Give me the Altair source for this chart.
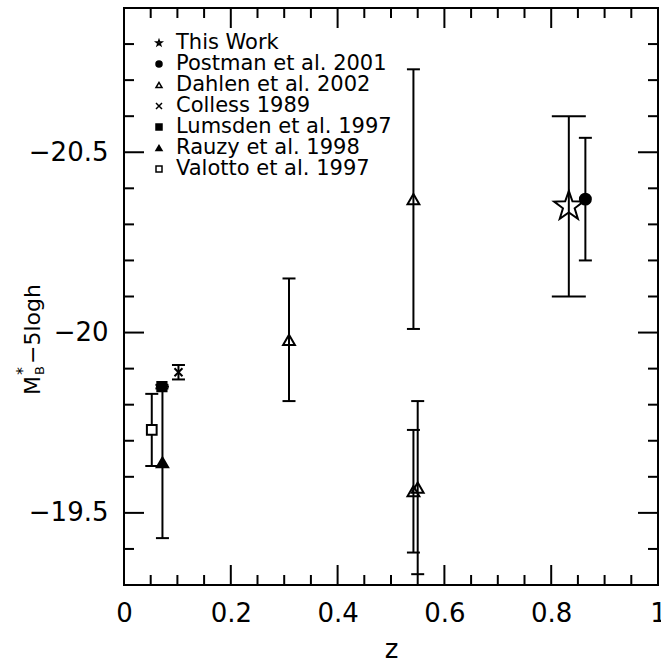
import altair as alt
import pandas as pd

# ---------------- data ----------------
series_names = ["This Work", "Postman et al. 2001", "Dahlen et al. 2002",
                "Colless 1989", "Lumsden et al. 1997", "Rauzy et al. 1998",
                "Valotto et al. 1997"]

point_series = ["This Work", "Postman et al. 2001", "Dahlen et al. 2002",
                "Dahlen et al. 2002", "Dahlen et al. 2002", "Dahlen et al. 2002",
                "Colless 1989", "Lumsden et al. 1997", "Rauzy et al. 1998",
                "Valotto et al. 1997"]
point_z = [0.833, 0.864, 0.309, 0.542, 0.542, 0.550, 0.102, 0.071, 0.072, 0.052]
point_M = [-20.35, -20.37, -19.98, -20.37, -19.56, -19.57, -19.89, -19.85, -19.64, -19.73]
point_err = [0.25, 0.17, 0.17, 0.36, 0.17, 0.24, 0.02, 0.005, 0.21, 0.10]

x_major = [0, 0.2, 0.4, 0.6, 0.8, 1.0]
x_minor = [0.05, 0.1, 0.15, 0.25, 0.3, 0.35, 0.45, 0.5, 0.55, 0.65, 0.7, 0.75,
           0.85, 0.9, 0.95]
y_major = [-20.5, -20.0, -19.5]
y_minor = [-20.8, -20.7, -20.6, -20.4, -20.3, -20.2, -20.1, -19.9, -19.8, -19.7,
           -19.6, -19.4]

# ---------------- style ----------------
W, H = 534, 577
FONT = "DejaVu Sans"
STAR = ("M0,-1L0.235,-0.324L0.951,-0.309L0.380,0.124L0.588,0.809L0,0.4"
        "L-0.588,0.809L-0.380,0.124L-0.951,-0.309L-0.235,-0.324Z")
XPATH = "M-1,-1L1,1M1,-1L-1,1"
shape_range = [STAR, "circle", "triangle-up", XPATH, "square", "triangle-up", "square"]
fill_range = ["transparent", "black", "transparent", "transparent", "black", "black", "white"]
marker_size = {"This Work": 950, "Postman et al. 2001": 120, "Dahlen et al. 2002": 140,
               "Colless 1989": 64, "Lumsden et al. 1997": 85, "Rauzy et al. 1998": 130,
               "Valotto et al. 1997": 95}
cap_width = {"This Work": 34}


def dict_expr(d, default):
    expr = str(default)
    for k, v in d.items():
        expr = f"datum.series == '{k}' ? {v} : ({expr})"
    return expr


xscale = alt.Scale(domain=[0, 1], nice=False, zero=False)
yscale = alt.Scale(domain=[-20.9, -19.3], reverse=True, nice=False, zero=False)
xaxis = alt.Axis(values=x_major, format="~g", ticks=False, domain=False, grid=False,
                 labelFont=FONT, labelFontSize=26, labelPadding=15, labelColor="black",
                 labelFlush=False, labelOverlap=False, labelBound=False,
                 title="z", titleFont=FONT, titleFontSize=26, titleFontWeight="normal",
                 titleColor="black", titlePadding=10)
yaxis = alt.Axis(values=y_major, format="~g", ticks=False, domain=False, grid=False,
                 labelFont=FONT, labelFontSize=26, labelPadding=16, labelColor="black",
                 labelFlush=False, labelOverlap=False, labelBound=False, title=None)

shape_scale = alt.Scale(domain=series_names, range=shape_range)
fill_scale = alt.Scale(domain=series_names, range=fill_range)

pts = pd.DataFrame({"series": point_series, "z": point_z, "M": point_M, "err": point_err})

base = alt.Chart(pts).transform_calculate(
    lo="datum.M - datum.err", hi="datum.M + datum.err"
)

err_rule = base.mark_rule(color="black", strokeWidth=2).encode(
    x=alt.X("z:Q", scale=xscale, axis=xaxis),
    y=alt.Y("lo:Q", scale=yscale, axis=yaxis),
    y2="hi:Q",
)

caps = base.transform_fold(["lo", "hi"], as_=["end", "val"]).transform_calculate(
    capw=dict_expr(cap_width, 13)
).mark_tick(orient="horizontal", color="black", thickness=2, opacity=1).encode(
    x=alt.X("z:Q", scale=xscale, axis=xaxis),
    y=alt.Y("val:Q", scale=yscale, axis=yaxis),
    size=alt.Size("capw:Q", scale=None, legend=None),
)

markers = base.transform_calculate(
    msize=dict_expr(marker_size, 100)
).mark_point(filled=True, stroke="black", strokeWidth=2, opacity=1).encode(
    x=alt.X("z:Q", scale=xscale, axis=xaxis),
    y=alt.Y("M:Q", scale=yscale, axis=yaxis),
    shape=alt.Shape("series:N", scale=shape_scale, legend=None),
    fill=alt.Fill("series:N", scale=fill_scale, legend=None),
    size=alt.Size("msize:Q", scale=None, legend=None),
)

# ---------- inward ticks on all four sides ----------
def yticks(values, length):
    d = pd.DataFrame({"v": values})
    left = alt.Chart(d).mark_rule(color="black", strokeWidth=2).encode(
        y=alt.Y("v:Q", scale=yscale, axis=yaxis), x=alt.value(0), x2=alt.value(length))
    right = alt.Chart(d).mark_rule(color="black", strokeWidth=2).encode(
        y=alt.Y("v:Q", scale=yscale, axis=yaxis), x=alt.value(W), x2=alt.value(W - length))
    return [left, right]


def xticks(values, length):
    d = pd.DataFrame({"v": values})
    bottom = alt.Chart(d).mark_rule(color="black", strokeWidth=2).encode(
        x=alt.X("v:Q", scale=xscale, axis=xaxis), y=alt.value(H), y2=alt.value(H - length))
    top = alt.Chart(d).mark_rule(color="black", strokeWidth=2).encode(
        x=alt.X("v:Q", scale=xscale, axis=xaxis), y=alt.value(0), y2=alt.value(length))
    return [bottom, top]


tick_layers = yticks(y_major, 20) + yticks(y_minor, 10) + xticks(x_major, 20) + xticks(x_minor, 10)

# ---------- legend (inside plot, top-left) ----------
leg = pd.DataFrame({"series": series_names, "row": list(range(len(series_names)))})
leg_base = alt.Chart(leg).transform_calculate(ly="35 + 21 * datum.row")
leg_sym = leg_base.mark_point(filled=True, stroke="black", strokeWidth=1.5, opacity=1).encode(
    x=alt.value(35),
    y=alt.Y("ly:Q", scale=None),
    shape=alt.Shape("series:N", scale=shape_scale, legend=None),
    fill=alt.Fill("series:N", scale=fill_scale, legend=None),
    size=alt.value(36),
)
leg_txt = leg_base.mark_text(align="left", baseline="middle", font=FONT, fontSize=21,
                             color="black").encode(
    x=alt.value(52), y=alt.Y("ly:Q", scale=None), text="series:N")

# ---------- y-axis title  M*_B - 5logh ----------
def title_part(txt, x, y, size):
    return alt.Chart(pd.DataFrame({"t": [txt]})).mark_text(
        angle=270, align="left", baseline="alphabetic", font=FONT, fontSize=size,
        color="black").encode(x=alt.value(x), y=alt.value(y), text="t:N")


TX, TY = -84, 387
ytitle = [
    title_part("M", TX, TY, 22),
    title_part("*", TX - 12, TY - 20, 16),
    title_part("B", TX + 4, TY - 20, 13),
    title_part("\u22125logh", TX, TY - 31, 22),
]

chart = alt.layer(
    *tick_layers, err_rule, caps, markers, leg_sym, leg_txt, *ytitle
).properties(
    width=W, height=H,
    autosize=alt.AutoSizeParams(type="none"),
    padding={"left": 124, "top": 8, "right": 3, "bottom": 77},
    background="white",
).configure_view(stroke="black", strokeWidth=2)

chart.save("out.html", embed_options={"renderer": "svg", "actions": False})
